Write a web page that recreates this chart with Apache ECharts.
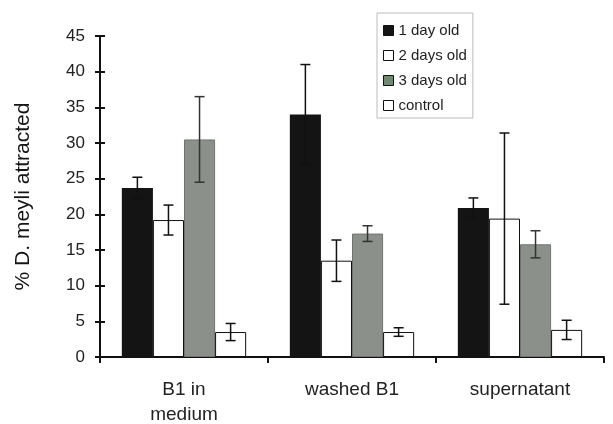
<!DOCTYPE html>
<html>
<head>
<meta charset="utf-8">
<script src="https://cdn.jsdelivr.net/npm/echarts@6/dist/echarts.min.js"></script>
<style>html,body{margin:0;padding:0;background:#fff;}#c{width:613px;height:424px;}</style>
</head>
<body>
<div id="c"></div>
<script>
const categories = ['B1 in\nmedium', 'washed B1', 'supernatant'];
const seriesNames = ['1 day old', '2 days old', '3 days old', 'control'];
const oneDay = [23.7, 34.0, 20.9];
const oneDayErr = [1.5, 7.0, 1.4];
const twoDays = [19.2, 13.5, 19.4];
const twoDaysErr = [2.1, 2.9, 12.0];
const threeDays = [30.5, 17.3, 15.8];
const threeDaysErr = [6.0, 1.1, 1.9];
const control = [3.5, 3.5, 3.8];
const controlErr = [1.2, 0.6, 1.35];
const yTicks = { min: 0, max: 45, interval: 5 };

const values = [oneDay, twoDays, threeDays, control];
const errs = [oneDayErr, twoDaysErr, threeDaysErr, controlErr];
const styles = [
  { color: '#141414', borderColor: '#141414', borderWidth: 0 },
  { color: '#ffffff', borderColor: '#111', borderWidth: 1 },
  { color: '#8b908b', borderColor: '#6f746f', borderWidth: 1 },
  { color: '#ffffff', borderColor: '#111', borderWidth: 1 }
];
const legendIcons = ['#141414', '#ffffff', '#6f8a6f', '#ffffff'];
const GAP = 0.26;

const chart = echarts.init(document.getElementById('c'), null, { renderer: 'canvas' });
const series = [];
seriesNames.forEach((n, i) => {
  series.push({
    name: n, type: 'bar', data: values[i], barGap: '0%', barCategoryGap: (GAP * 100) + '%',
    itemStyle: styles[i], z: 2, animation: false
  });
});
seriesNames.forEach((n, i) => {
  series.push({
    type: 'custom', z: 5, animation: false, silent: true,
    data: values[i].map((v, k) => [k, v, errs[i][k]]),
    renderItem: function (params, api) {
      const x = api.value(0), v = api.value(1), e = api.value(2);
      const c = api.coord([x, v]);
      const t = api.coord([x, v + e]);
      const b = api.coord([x, v - e]);
      const catW = api.size([1, 0])[0];
      const bw = catW * (1 - GAP) / 4;
      const cx = c[0] + (i - 1.5) * bw;
      const cap = 5;
      const st = { stroke: i === 2 ? '#333' : '#111', lineWidth: 1.5 };
      return {
        type: 'group', children: [
          { type: 'line', shape: { x1: cx, y1: t[1], x2: cx, y2: b[1] }, style: st },
          { type: 'line', shape: { x1: cx - cap, y1: t[1], x2: cx + cap, y2: t[1] }, style: st },
          { type: 'line', shape: { x1: cx - cap, y1: b[1], x2: cx + cap, y2: b[1] }, style: st }
        ]
      };
    }
  });
});

chart.setOption({
  backgroundColor: '#fff',
  animation: false,
  textStyle: { fontFamily: 'Liberation Sans, Arial, sans-serif' },
  grid: { left: 100, right: 9, top: 36, bottom: 67, containLabel: false, outerBoundsMode: 'none' },
  legend: {
    orient: 'vertical', left: 377, top: 13,
    data: seriesNames.map((n, i) => ({ name: n, itemStyle: { color: legendIcons[i], borderColor: '#111', borderWidth: 1 } })),
    icon: 'rect', itemWidth: 10, itemHeight: 10, itemGap: 10,
    backgroundColor: '#fff', borderColor: '#bbb', borderWidth: 1,
    padding: [10, 6, 5, 6],
    textStyle: { fontSize: 15, color: '#222', padding: [0, 0, 0, 0] },
    selectedMode: false
  },
  xAxis: {
    type: 'category', data: categories,
    axisLine: { lineStyle: { color: '#111', width: 2 } },
    axisTick: { show: true, length: 6, lineStyle: { color: '#111', width: 2 } },
    axisLabel: { fontSize: 19, color: '#222', lineHeight: 25, margin: 20 }
  },
  yAxis: [{
    type: 'value', min: yTicks.min, max: yTicks.max, interval: yTicks.interval,
    name: '% D. meyli attracted', nameLocation: 'middle', nameGap: 66,
    nameTextStyle: { fontSize: 21, color: '#151515' },
    axisLine: { show: true, lineStyle: { color: '#111', width: 2 } },
    axisTick: { show: true, length: 5, lineStyle: { color: '#111', width: 2 } },
    axisLabel: { fontSize: 17, color: '#222', margin: 15 },
    splitLine: { show: false }
  }, {
    type: 'value', position: 'left', min: yTicks.min, max: yTicks.max, interval: yTicks.interval,
    axisLine: { show: false },
    axisTick: { show: true, inside: true, length: 5, lineStyle: { color: '#111', width: 2 } },
    axisLabel: { show: false },
    splitLine: { show: false }
  }],
  series: series
});
</script>
</body>
</html>
